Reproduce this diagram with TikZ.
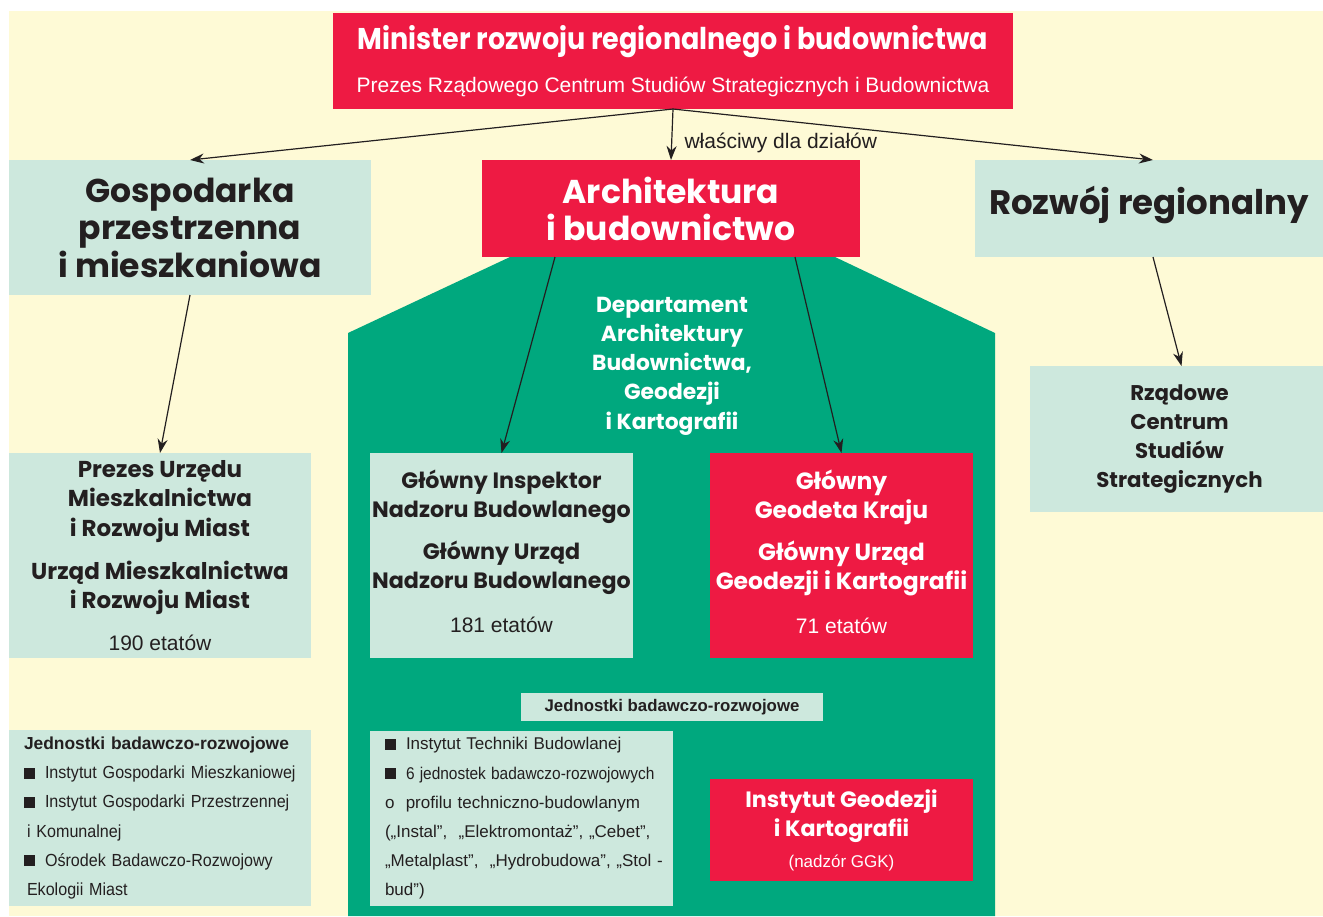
\documentclass[tikz,border=0pt]{standalone}
\usepackage{fontspec}
\setmainfont{Liberation Sans}
\newfontfamily\hvy{Poppins}
\newfontfamily\hvc[FakeStretch=0.9]{Poppins}
\newfontfamily\rgc[FakeStretch=0.92]{Liberation Sans}
\usetikzlibrary{arrows.meta}
\definecolor{cream}{RGB}{254,250,214}
\definecolor{mint}{RGB}{205,232,221}
\definecolor{redbox}{RGB}{238,26,67}
\definecolor{grn}{RGB}{0,168,126}
\definecolor{ink}{RGB}{35,31,32}
\newcommand\blt{\rule{11pt}{11pt}\hspace{10pt}}
\tikzset{
  box/.style={inner sep=0pt, outer sep=0pt, align=center},
  mintbox/.style={box, fill=mint, text=ink},
  redb/.style={box, fill=redbox, text=white},
  listbox/.style={inner xsep=15pt, inner ysep=0pt, outer sep=0pt, fill=mint, text=ink, align=left},
  arr/.style={draw=ink, line width=1.2pt, -{Stealth[length=14pt,width=10pt,inset=4.5pt]}},
  hv/.style 2 args={font=\hvy\bfseries\fontsize{#1}{#2}\selectfont},
  hvn/.style 2 args={font=\hvc\bfseries\fontsize{#1}{#2}\selectfont},
}
\begin{document}
\begin{tikzpicture}[x=1pt,y=-1pt]
\useasboundingbox (0,0) rectangle (1323,916);
\fill[white] (0,0) rectangle (1323,916);
\fill[cream] (9,11) rectangle (1323,916);
\fill[grn] (510,257) -- (348,333) -- (348,916) -- (995,916) -- (995,333) -- (835,257) -- cycle;

% top
\node[redb, minimum width=680pt, minimum height=96pt, hvn={30}{43}] (top) at (673,61)
  {Minister rozwoju regionalnego i budownictwa\\{\normalfont\fontsize{21}{24}\selectfont Prezes Rządowego Centrum Studiów Strategicznych i Budownictwa}};

% second row
\node[mintbox, minimum width=362pt, minimum height=135pt, hv={33}{37.5}] (gosp) at (190,227.5)
  {Gospodarka\\przestrzenna\\i mieszkaniowa};
\node[redb, minimum width=378pt, minimum height=97pt, hv={33}{37}] (arch) at (671,208.5)
  {Architektura\\i budownictwo};
\node[mintbox, minimum width=348pt, minimum height=97pt] (rr) at (1149,208.5) {};
\node[box, text=ink, hv={34}{40}] (rrT) at ([yshift=4pt]rr.center) {Rozwój regionalny};

\node[anchor=west, text=ink, font=\fontsize{21}{24}\selectfont] (lbl) at (681,143) {właściwy dla działów};

% department label
\node[box, text=white, hv={21.8}{29.2}] (dept) at (672,366)
  {Departament\\Architektury\\Budownictwa,\\Geodezji\\i Kartografii};

% third row
\node[mintbox, minimum width=302pt, minimum height=205pt, hv={23}{29.5}] (prezes) at (160,555.5)
  {Prezes Urzędu\\Mieszkalnictwa\\i Rozwoju Miast\\[13.5pt]Urząd Mieszkalnictwa\\i Rozwoju Miast\\[12.5pt]{\normalfont\fontsize{21}{24}\selectfont 190 etatów}};
\node[mintbox, minimum width=263pt, minimum height=205pt] (ginb) at (501.5,555.5) {};
\node[box, text=ink, hv={22.2}{29}] (ginbT) at ([yshift=4pt]ginb.center)
  {Główny Inspektor\\Nadzoru Budowlanego\\[13pt]Główny Urząd\\Nadzoru Budowlanego\\[15pt]{\normalfont\fontsize{21}{24}\selectfont 181 etatów}};
\node[redb, minimum width=263pt, minimum height=205pt] (ggk) at (841.5,555.5) {};
\node[box, text=white, hv={23.5}{29}] (ggkT) at ([yshift=4pt]ggk.center)
  {Główny\\Geodeta Kraju\\[13pt]Główny Urząd\\Geodezji i Kartografii\\[15pt]{\normalfont\fontsize{21}{24}\selectfont 71 etatów}};
\node[mintbox, minimum width=293pt, minimum height=146pt] (rcss) at (1176.5,439) {};
\node[box, text=ink, hv={21.3}{29.3}] (rcssT) at ([xshift=3pt]rcss.center)
  {Rządowe\\Centrum\\Studiów\\Strategicznych};

% bottom
\node[mintbox, minimum width=302pt, minimum height=28pt, font=\bfseries\fontsize{16.8}{20}\selectfont] (jbr) at (672,707)
  {Jednostki badawczo-rozwojowe};
\node[listbox, text width=272pt, minimum height=176pt, font=\rgc\fontsize{17.5}{29.2}\selectfont] (llist) at (160,818)
  {\mbox{\normalfont\bfseries\fontsize{17.4}{29.2}\selectfont Jednostki badawczo-rozwojowe}\\
   \mbox{\blt Instytut Gospodarki Mieszkaniowej}\\
   \mbox{\blt Instytut Gospodarki Przestrzennej}\\
   \mbox{\hspace{3pt}i Komunalnej}\\
   \mbox{\blt Ośrodek Badawczo-Rozwojowy}\\
   \mbox{\hspace{3pt}Ekologii Miast}};
\node[listbox, text width=273pt, minimum height=175pt, font=\fontsize{17}{29.2}\selectfont] (clist) at (521.5,818.5)
  {\mbox{\blt Instytut Techniki Budowlanej}\\
   \mbox{\blt \scalebox{0.91}[1]{6 jednostek badawczo-rozwojowych}}\\
   \mbox{o\ \ profilu techniczno-budowlanym}\\
   \mbox{(„Instal”,\ \ „Elektromontaż”, „Cebet”,}\\
   \mbox{„Metalplast”,\ \ „Hydrobudowa”, „Stol -}\\
   \mbox{bud”)}};
\node[redb, minimum width=263pt, minimum height=102pt, hv={22.2}{29}] (igik) at (841.5,830)
  {Instytut Geodezji\\i Kartografii\\[2pt]{\normalfont\fontsize{17}{24}\selectfont (nadzór GGK)}};

% connectors
\draw[arr] (top.south) -- (gosp.north);
\draw[arr] (top.south) -- (arch.north);
\draw[arr] (top.south) -- ([xshift=4pt]rr.north);
\draw[arr] (gosp.south) -- (prezes.north);
\draw[arr] ([xshift=73pt]arch.south west) -- (ginb.north);
\draw[arr] ([xshift=-65pt]arch.south east) -- (ggk.north);
\draw[arr] ([xshift=4pt]rr.south) -- ([xshift=5pt]rcss.north);
\end{tikzpicture}
\end{document}
